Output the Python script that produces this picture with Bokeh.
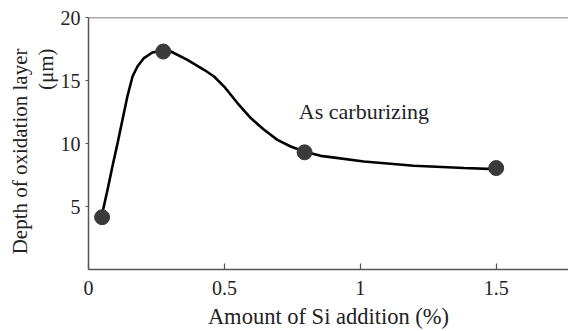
from bokeh.plotting import figure
from bokeh.models import Label, Span, FixedTicker, Title
from bokeh.embed import file_html
from bokeh.resources import INLINE

# Measured oxidation-layer depth versus Si addition
si_pct = [0.05, 0.275, 0.795, 1.50]
depth_um = [4.15, 17.3, 9.3, 8.05]

# Hand-drawn trend curve through the measurements
curve_x = [0.051, 0.070, 0.088, 0.107, 0.125, 0.143, 0.162, 0.180, 0.204,
           0.235, 0.272, 0.303, 0.364, 0.425, 0.462, 0.499, 0.548, 0.597,
           0.646, 0.695, 0.744, 0.793, 0.854, 0.891, 1.013, 1.197, 1.381, 1.497]
curve_y = [4.48, 6.33, 8.17, 10.03, 11.88, 13.73, 15.32, 16.11, 16.78,
           17.22, 17.38, 17.30, 16.64, 15.85, 15.32, 14.52, 13.21, 12.02,
           11.09, 10.29, 9.76, 9.37, 9.02, 8.92, 8.57, 8.23, 8.05, 7.97]

x_ticks = [0, 0.5, 1, 1.5]
x_tick_labels = ["0", "0.5", "1", "1.5"]
y_ticks = [5, 10, 15, 20]
y_tick_labels = ["5", "10", "15", "20"]

FONT = "Liberation Serif"
TEXT = "#222222"
AXIS = "#555555"

p = figure(width=568, height=331, x_range=(0, 1.766), y_range=(0, 20),
           output_backend="svg", toolbar_location=None,
           min_border_left=88, min_border_right=0, min_border_top=17,
           min_border_bottom=61)
p.outline_line_color = None
p.grid.grid_line_color = None
p.background_fill_color = "white"
p.border_fill_color = "white"

# x axis: inward ticks only
xa = p.xaxis[0]
xa.ticker = FixedTicker(ticks=x_ticks)
xa.major_label_overrides = dict(zip(x_ticks, x_tick_labels))
xa.major_tick_in = 6
xa.major_tick_out = 0
xa.minor_tick_line_color = None
xa.axis_line_color = AXIS
xa.axis_line_width = 1.5
xa.major_tick_line_color = AXIS
xa.major_tick_line_width = 1.2
xa.major_label_text_font = FONT
xa.major_label_text_font_size = "20px"
xa.major_label_text_color = TEXT
xa.major_label_standoff = 11
xa.axis_label = "Amount of Si addition (%)"
xa.axis_label_text_font = FONT
xa.axis_label_text_font_size = "22.5px"
xa.axis_label_text_font_style = "normal"
xa.axis_label_text_color = TEXT
xa.axis_label_standoff = 6

# y axis: short outward ticks
ya = p.yaxis[0]
ya.ticker = FixedTicker(ticks=y_ticks)
ya.major_label_overrides = dict(zip(y_ticks, y_tick_labels))
ya.major_tick_in = 0
ya.major_tick_out = 3
ya.minor_tick_line_color = None
ya.axis_line_color = AXIS
ya.axis_line_width = 1.5
ya.major_tick_line_color = AXIS
ya.major_tick_line_width = 1.2
ya.major_label_text_font = FONT
ya.major_label_text_font_size = "20px"
ya.major_label_text_color = TEXT
ya.major_label_standoff = 5

# two-line y title, both lines ending at the same height
for line in ["(\u03bcm)", "Depth of oxidation layer"]:
    p.add_layout(Title(text=line, align="right", offset=31, standoff=0,
                       text_font=FONT, text_font_size="21px",
                       text_font_style="normal", text_color=TEXT), "left")

# top border of the frame
p.add_layout(Span(location=20, dimension="width", line_color=AXIS, line_width=1.5))

p.line(curve_x, curve_y, line_color="black", line_width=2.6)
p.scatter(si_pct, depth_um, size=15, fill_color="#3a3a3a", line_color="#3a3a3a")

p.add_layout(Label(x=0.774, y=12.54, text="As carburizing", text_font=FONT,
                   text_font_size="22px", text_color=TEXT,
                   text_baseline="alphabetic"))

open("out.html", "w").write(file_html(p, INLINE))
